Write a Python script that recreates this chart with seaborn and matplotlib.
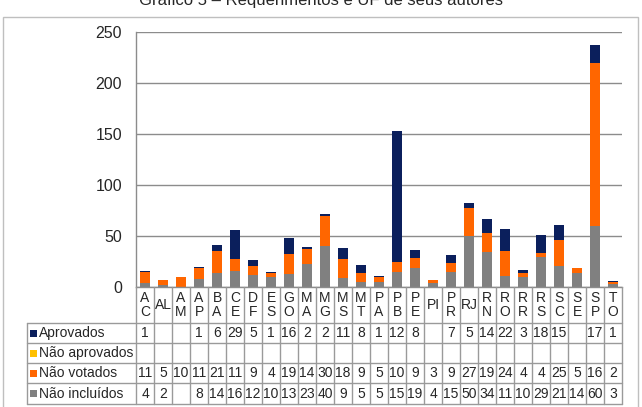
import matplotlib
matplotlib.use('Agg')
import matplotlib.pyplot as plt
import matplotlib.transforms as mtransforms
from matplotlib.lines import Line2D
from matplotlib.patches import Rectangle
import pandas as pd
import seaborn as sns

ufs = ['AC', 'AL', 'AM', 'AP', 'BA', 'CE', 'DF', 'ES', 'GO', 'MA', 'MG', 'MS', 'MT', 'PA',
       'PB', 'PE', 'PI', 'PR', 'RJ', 'RN', 'RO', 'RR', 'RS', 'SC', 'SE', 'SP', 'TO']
uf_labels = ['A\nC', 'AL', 'A\nM', 'A\nP', 'B\nA', 'C\nE', 'D\nF', 'E\nS', 'G\nO', 'M\nA',
             'M\nG', 'M\nS', 'M\nT', 'P\nA', 'P\nB', 'P\nE', 'PI', 'P\nR', 'RJ', 'R\nN',
             'R\nO', 'R\nR', 'R\nS', 'S\nC', 'S\nE', 'S\nP', 'T\nO']
aprovados = [1, 0, 0, 1, 6, 29, 5, 1, 16, 2, 2, 11, 8, 1, 128, 8, 0, 7, 5, 14, 22, 3, 18, 15, 0, 17, 1]
nao_aprovados = [0, 0, 0, 0, 0, 0, 0, 0, 0, 0, 0, 0, 0, 0, 0, 0, 0, 0, 0, 0, 0, 0, 0, 0, 0, 0, 0]
nao_votados = [11, 5, 10, 11, 21, 11, 9, 4, 19, 14, 30, 18, 9, 5, 10, 9, 3, 9, 27, 19, 24, 4, 4, 25, 5, 160, 2]
nao_incluidos = [4, 2, 0, 8, 14, 16, 12, 10, 13, 23, 40, 9, 5, 5, 15, 19, 4, 15, 50, 34, 11, 10, 29, 21, 14, 60, 3]

series = ['Aprovados', 'Não aprovados', 'Não votados', 'Não incluídos']
colors = {'Aprovados': '#0b1f5c', 'Não aprovados': '#ffc000',
          'Não votados': '#ff6600', 'Não incluídos': '#808080'}

df = pd.DataFrame({'uf': ufs, 'Aprovados': aprovados, 'Não aprovados': nao_aprovados,
                   'Não votados': nao_votados, 'Não incluídos': nao_incluidos})

sns.set_style('white')
plt.rcParams['font.family'] = ['Liberation Sans', 'DejaVu Sans']

W, H = 642, 407
fig = plt.figure(figsize=(W / 100, H / 100), dpi=100)
ax = fig.add_axes([136 / W, 1 - 287 / H, (622 - 136) / W, (287 - 32) / H])

# stacked bars: draw cumulative totals from the top series down
bottom_up = ['Não incluídos', 'Não votados', 'Não aprovados', 'Aprovados']
for k in range(len(bottom_up), 0, -1):
    cols = bottom_up[:k]
    tot = df[cols].sum(axis=1)
    sns.barplot(x=df['uf'], y=tot, color=colors[cols[-1]], width=0.55,
                saturation=1, ax=ax, order=ufs, linewidth=0)

ax.set_xlim(-0.5, len(ufs) - 0.5)
ax.set_ylim(0, 250)
ax.set_yticks(range(0, 251, 50))
ax.set_xticks([])
ax.set_xlabel('')
ax.set_ylabel('')
ax.yaxis.grid(True, color='#8c8c8c', lw=1)
ax.set_axisbelow(True)
for s in ['top', 'right']:
    ax.spines[s].set_visible(False)
for s in ['left', 'bottom']:
    ax.spines[s].set_color('#8c8c8c')
    ax.spines[s].set_linewidth(1)
ax.tick_params(axis='y', length=0, pad=10, labelsize=11.5)

# title (cut at top of image) and chart frame
fig.text(0.5, 1 - 5 / H, 'Gráfico 5 – Requerimentos e UF de seus autores',
         ha='center', va='baseline', fontsize=12)
fig.add_artist(Rectangle((3 / W, -0.1), (635 / W), 1.1 - 17 / H, transform=fig.transFigure,
                         fill=False, edgecolor='#bfbfbf', lw=1))

# data table
def fy(py):
    return 1 - py / H

trans = mtransforms.blended_transform_factory(ax.transData, fig.transFigure)
gcol = '#9a9a9a'
row_tops = [323, 343, 363, 383, 404]
for y in row_tops:
    fig.add_artist(Line2D([27 / W, 622 / W], [fy(y), fy(y)], transform=fig.transFigure,
                          color=gcol, lw=1))
fig.add_artist(Line2D([27 / W, 27 / W], [fy(323), fy(404)], transform=fig.transFigure,
                      color=gcol, lw=1))
for i in range(len(ufs) + 1):
    fig.add_artist(Line2D([i - 0.5, i - 0.5], [fy(287), fy(404)], transform=trans,
                          color=gcol, lw=1))

for i, lab in enumerate(uf_labels):
    fig.text(i, fy(305), lab, transform=trans, ha='center', va='center',
             fontsize=10, linespacing=1.05)

for r, name in enumerate(series):
    yc = fy((row_tops[r] + row_tops[r + 1]) / 2)
    fig.add_artist(Rectangle((30 / W, yc - 3.5 / H), 7 / W, 7 / H, transform=fig.transFigure,
                             facecolor=colors[name], edgecolor='none'))
    fig.text(39 / W, yc, name, ha='left', va='center', fontsize=10)
    for i, v in enumerate(df[name]):
        if v:
            txt = str(v)[:2]  # the narrow cells show only two digits
            fig.text(i, yc, txt, transform=trans, ha='center', va='center', fontsize=10)

fig.savefig('out.png', dpi=100)
